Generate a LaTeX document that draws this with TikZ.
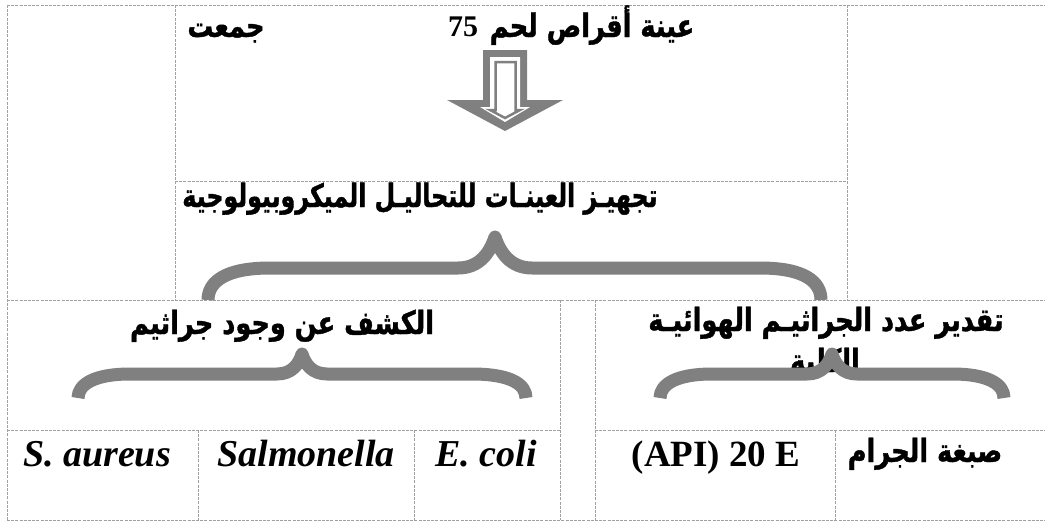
\documentclass[tikz,border=0pt]{standalone}
\usepackage{fontspec}
\TeXXeTstate=1
\newfontfamily\arabicfont[Script=Arabic,FakeStretch=0.80,FakeBold=1.2]{DejaVu Sans}
\newfontfamily\arabicnarrow[Script=Arabic,FakeStretch=0.74,FakeBold=1.2]{DejaVu Sans}
\newfontfamily\latserif{Liberation Serif}
\definecolor{gridgray}{HTML}{A0A0A0}
\definecolor{bracegray}{HTML}{808080}
\begin{document}
\begin{tikzpicture}[x=1pt,y=-1pt,
  gridline/.style={draw=gridgray, line width=0.9pt, dash pattern=on 3pt off 1.2pt},
  bracepath/.style={draw=bracegray, line width=13pt, line join=round, line cap=butt},
  artext/.style={font=\arabicfont\bfseries\fontsize{32}{36}\selectfont, inner sep=0pt, anchor=base},
  arnarrow/.style={font=\arabicnarrow\bfseries\fontsize{32}{36}\selectfont, inner sep=0pt, anchor=base},
  lattext/.style={font=\latserif\bfseries\itshape\fontsize{38}{44}\selectfont, inner sep=0pt, anchor=base},
  uptext/.style={font=\latserif\bfseries\fontsize{37}{44}\selectfont, inner sep=0pt, anchor=base},
]
\useasboundingbox (0,0) rectangle (1048,522);
\fill[white] (0,0) rectangle (1048,522);

% table grid
\draw[gridline] (7,5) -- (1045,5);
\draw[gridline] (7,5) -- (7,520);
\draw[gridline] (7,520) -- (1045,520);
\draw[gridline] (175,5) -- (175,300);
\draw[gridline] (847,5) -- (847,300);
\draw[gridline] (175,181) -- (847,181);
\draw[gridline] (7,300) -- (1045,300);
\draw[gridline] (560,300) -- (560,520);
\draw[gridline] (595,300) -- (595,520);
\draw[gridline] (7,430) -- (560,430);
\draw[gridline] (595,430) -- (1045,430);
\draw[gridline] (198,430) -- (198,520);
\draw[gridline] (414,430) -- (414,520);
\draw[gridline] (835,430) -- (835,520);

% texts
\node[artext] (t1) at (592,37) {\beginR عينة أقراص لحم\endR};
\node[font=\latserif\bfseries\fontsize{30}{34}\selectfont, inner sep=0pt, anchor=base] (n75) at (463,36) {75};
\node[artext] (t2) at (226,37) {\beginR جمعت\endR};
\node[arnarrow] (t3) at (420,207) {\beginR تجهيـز العينـات للتحاليـل الميكروبيولوجية\endR};
\node[artext] (t4) at (282,334) {\beginR الكشف عن وجود جراثيم\endR};
\node[artext] (t5) at (826,331) {\beginR تقدير عدد الجراثيـم الهوائيـة\endR};
\node[artext] (t5b) at (825,372) {\beginR الكلية\endR};
\node[lattext] (b1) at (97,466) {S. aureus};
\node[lattext] (b2) at (306,466) {Salmonella};
\node[lattext] (b3) at (486,466) {E.\ coli};
\node[uptext] (b4) at (716,466) {(API) 20 E};
\node[artext] (b5) at (925,462) {\beginR صبغة الجرام\endR};

% braces
\draw[bracepath] (208,300) .. controls (208,282) and (225,268) .. (270,268) -- (458,268) .. controls (480,268) and (490,252) .. (495,237) .. controls (500,252) and (510,268) .. (532,268) -- (760,268) .. controls (805,268) and (821,282) .. (821,300);
\draw[bracepath] (78,398) .. controls (78,384) and (95,374) .. (130,374) -- (277,374) .. controls (292,374) and (299,364) .. (302,354) .. controls (305,364) and (312,374) .. (327,374) -- (472,374) .. controls (510,374) and (526,384) .. (526,398);
\draw[bracepath] (660,398) .. controls (660,384) and (677,374) .. (712,374) -- (807,374) .. controls (822,374) and (829,364) .. (832,354) .. controls (835,364) and (842,374) .. (857,374) -- (952,374) .. controls (988,374) and (1004,384) .. (1004,398);

% block arrow
\fill[bracegray] (483,50) -- (527,50) -- (527,100) -- (563,100) -- (505,131) -- (447,100) -- (483,100) -- cycle;
\fill[white] (490,57) -- (520,57) -- (520,107) -- (530,107) -- (505,122) -- (480,107) -- (490,107) -- cycle;
\draw[bracegray, line width=2.5pt, line join=miter] (495.5,62) -- (515.5,62) -- (515.5,110) -- (520,110) -- (505,118) -- (490,110) -- (495.5,110) -- cycle;
\end{tikzpicture}
\end{document}
